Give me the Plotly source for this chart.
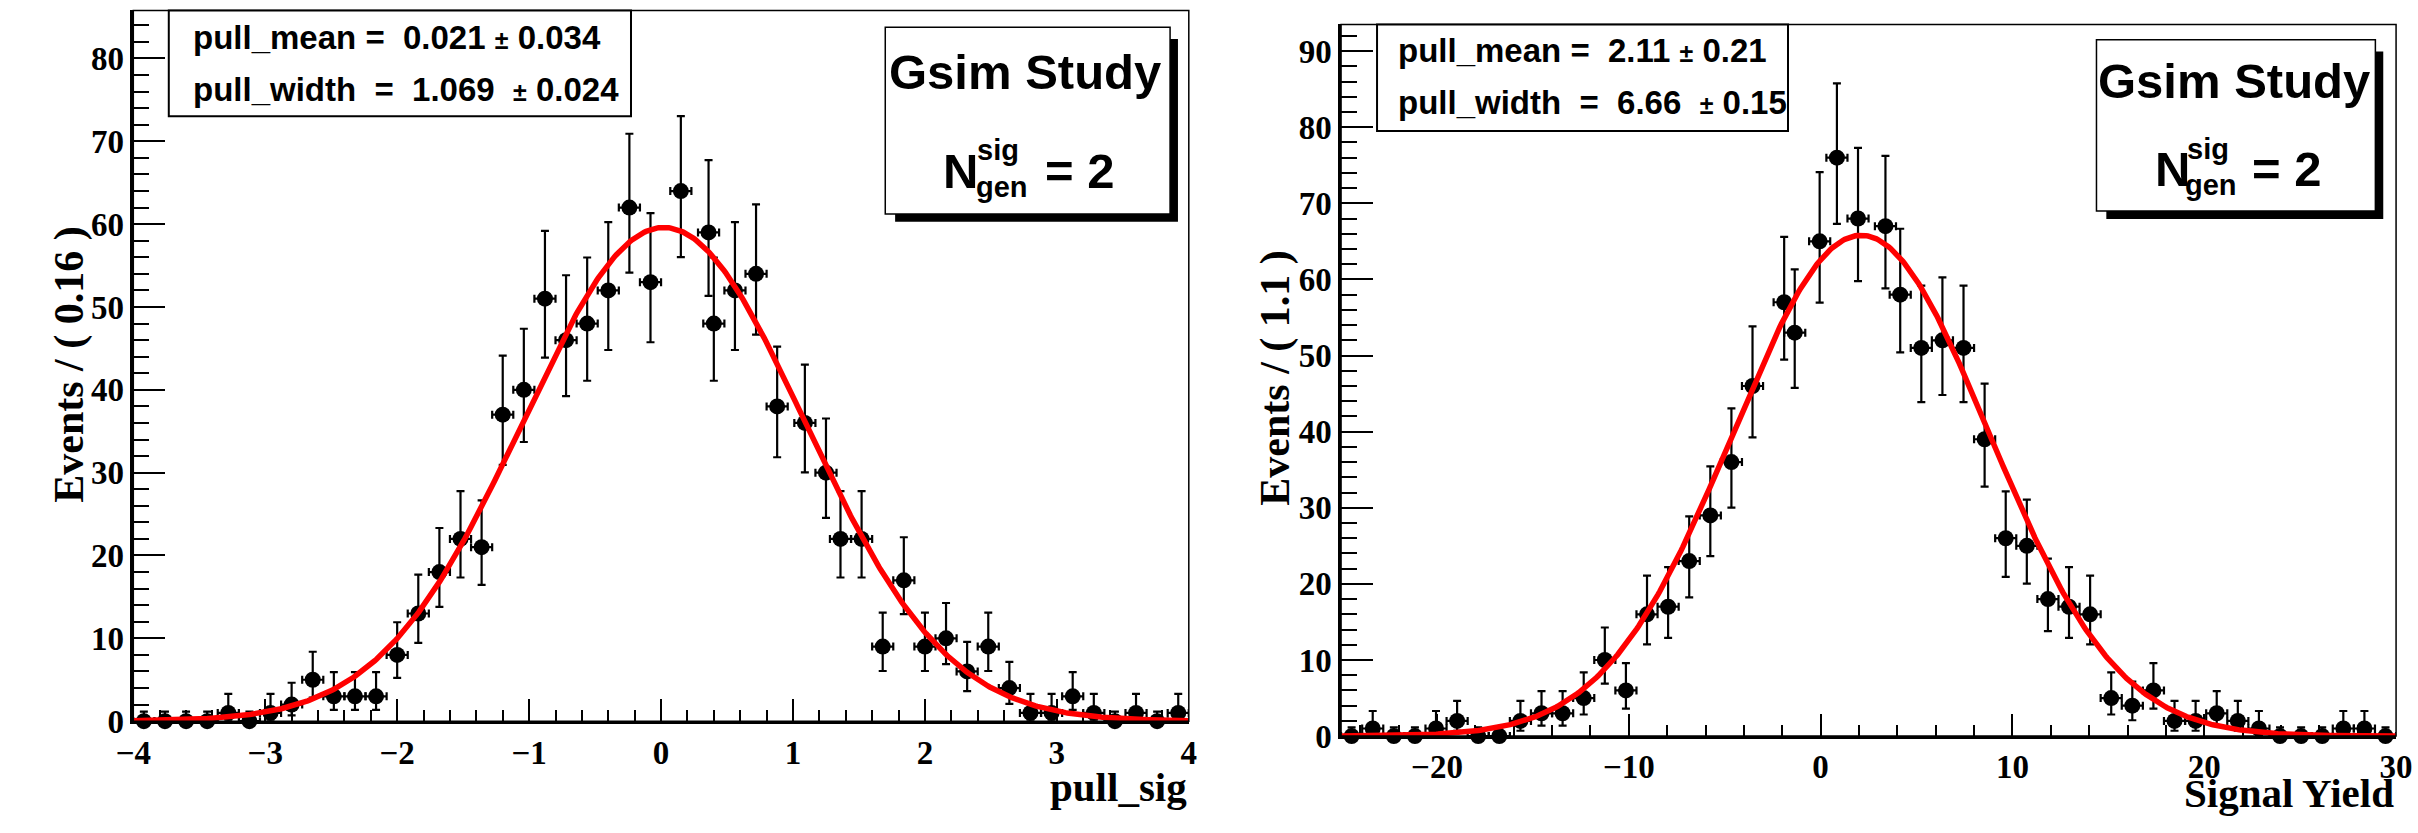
import math
import numpy as np
import plotly.graph_objects as go

W, H = 2418, 833

# ---------------- data: left panel (pull_sig, bin width 0.16) ----------------
pull_x = [-3.92, -3.76, -3.60, -3.44, -3.28, -3.12, -2.96, -2.80, -2.64, -2.48,
          -2.32, -2.16, -2.00, -1.84, -1.68, -1.52, -1.36, -1.20, -1.04, -0.88,
          -0.72, -0.56, -0.40, -0.24, -0.08, 0.15, 0.36, 0.40, 0.56, 0.72,
          0.88, 1.09, 1.25, 1.36, 1.52, 1.68, 1.84, 2.00, 2.16, 2.32,
          2.48, 2.64, 2.80, 2.96, 3.12, 3.28, 3.44, 3.60, 3.76, 3.92]
pull_counts = [0, 0, 0, 0, 1, 0, 1, 2, 5, 3,
               3, 3, 8, 13, 18, 22, 21, 37, 40, 51,
               46, 48, 52, 62, 53, 64, 59, 48, 52, 54,
               38, 36, 30, 22, 22, 9, 17, 9, 10, 6,
               9, 4, 1, 1, 3, 1, 0, 1, 0, 1]
pull_binwidth = 0.16
pull_range = [-4, 4]
pull_fit_mean = 0.021
pull_fit_width = 1.069
pull_fit_peak = 59.6
pull_ymax = 85.8

# ---------------- data: right panel (Signal Yield, bin width 1.1) ----------------
yield_x = [-24.45, -23.35, -22.25, -21.15, -20.05, -18.95, -17.85, -16.75, -15.65, -14.55,
           -13.45, -12.35, -11.25, -10.15, -9.05, -7.95, -6.85, -5.75, -4.65, -3.55,
           -1.90, -1.35, -0.05, 0.85, 1.95, 3.38, 4.15, 5.25, 6.35, 7.45,
           8.55, 9.65, 10.75, 11.85, 12.95, 14.05, 15.15, 16.25, 17.35, 18.45,
           19.55, 20.65, 21.75, 22.85, 23.95, 25.05, 26.15, 27.25, 28.35, 29.45]
yield_counts = [0, 1, 0, 0, 1, 2, 0, 0, 2, 3,
                3, 5, 10, 6, 16, 17, 23, 29, 36, 46,
                57, 53, 65, 76, 68, 67, 58, 51, 52, 51,
                39, 26, 25, 18, 17, 16, 5, 4, 6, 2,
                2, 3, 2, 1, 0, 0, 0, 1, 1, 0]
yield_binwidth = 1.1
yield_range = [-25, 30]
yield_fit_mean = 2.11
yield_fit_width = 6.66
yield_fit_peak = 65.8
yield_ymax = 93.5

# text
left_stats = ["pull_mean =  0.021 ± 0.034", "pull_width  =  1.069  ± 0.024"]
right_stats = ["pull_mean =  2.11 ± 0.21", "pull_width  =  6.66  ± 0.15"]


# ---------------- Poisson (RooFit-style) error bars ----------------
def pois_cdf(k, mu):
    term = math.exp(-mu)
    s = term
    for i in range(1, k + 1):
        term *= mu / i
        s += term
    return s


def poisson_errors(n, alpha=0.158655):
    if n == 0:
        return 0.0, -math.log(2 * alpha)
    lo_a, lo_b = 0.0, float(n)
    for _ in range(80):
        m = 0.5 * (lo_a + lo_b)
        if 1 - pois_cdf(n - 1, m) < alpha:
            lo_a = m
        else:
            lo_b = m
    hi_a, hi_b = float(n), n + 10 * math.sqrt(n) + 10
    for _ in range(80):
        m = 0.5 * (hi_a + hi_b)
        if pois_cdf(n, m) > alpha:
            hi_a = m
        else:
            hi_b = m
    return n - 0.5 * (lo_a + lo_b), 0.5 * (hi_a + hi_b) - n


def PX(x):
    return x / W


def PY(y):
    return 1 - y / H


SERIF = "Liberation Serif"
SANS = "Liberation Sans"

fig = go.Figure()

panels = [
    dict(xa="x", ya="y", xs=pull_x, ys=pull_counts, bw=pull_binwidth, rng=pull_range,
         mean=pull_fit_mean, width=pull_fit_width, peak=pull_fit_peak),
    dict(xa="x2", ya="y2", xs=yield_x, ys=yield_counts, bw=yield_binwidth, rng=yield_range,
         mean=yield_fit_mean, width=yield_fit_width, peak=yield_fit_peak),
]

for p in panels:
    errs = [poisson_errors(n) for n in p["ys"]]
    lo = [e[0] for e in errs]
    hi = [e[1] for e in errs]
    fig.add_trace(go.Scatter(
        x=p["xs"], y=p["ys"], mode="markers", xaxis=p["xa"], yaxis=p["ya"],
        marker=dict(color="black", size=16, symbol="circle"),
        error_y=dict(type="data", symmetric=False, array=hi, arrayminus=lo,
                     color="black", thickness=2.2, width=4),
        error_x=dict(type="constant", value=p["bw"] / 2, color="black", thickness=2.2, width=4),
        cliponaxis=False, showlegend=False, hoverinfo="skip"))
    cx = np.linspace(p["rng"][0], p["rng"][1], 600)
    cy = p["peak"] * np.exp(-0.5 * ((cx - p["mean"]) / p["width"]) ** 2)
    fig.add_trace(go.Scatter(
        x=cx, y=cy, mode="lines", xaxis=p["xa"], yaxis=p["ya"],
        line=dict(color="#ff0000", width=5.5), showlegend=False, hoverinfo="skip"))

L = dict(x0=117, x1=1188, y0=10.7, y1=738)
R = dict(x0=1342.5, x1=2413, y0=25, y1=753.3)

tickfont = dict(family=SERIF, size=33, color="black", weight="bold")


def xaxis_style(dom, rng, dtick, minor_dtick):
    return dict(domain=[PX(dom["x0"]), PX(dom["x1"])], range=rng, dtick=dtick, tick0=0,
                ticks="inside", ticklen=22, tickwidth=2, tickcolor="black",
                minor=dict(dtick=minor_dtick, tick0=0, ticks="inside", ticklen=11,
                           tickwidth=2, tickcolor="black"),
                showline=True, linewidth=2.5, linecolor="black", mirror=False,
                showgrid=False, zeroline=False, tickfont=tickfont, layer="below traces",
                ticklabeloverflow="allow", fixedrange=True)


def yaxis_style(dom, rng, anchor):
    return dict(domain=[PY(dom["y1"]), PY(dom["y0"])], range=rng, dtick=10, tick0=0,
                ticks="inside", ticklen=32, tickwidth=2, tickcolor="black",
                minor=dict(dtick=2, tick0=0, ticks="inside", ticklen=16,
                           tickwidth=2, tickcolor="black"),
                showline=True, linewidth=2.5, linecolor="black", mirror=False,
                showgrid=False, zeroline=False, tickfont=tickfont, layer="below traces",
                ticklabeloverflow="allow", anchor=anchor, fixedrange=True)


fig.update_layout(
    width=W, height=H, margin=dict(l=0, r=0, t=0, b=0),
    paper_bgcolor="white", plot_bgcolor="rgba(0,0,0,0)",
    xaxis=dict(xaxis_style(L, pull_range, 1, 0.2), anchor="y"),
    yaxis=yaxis_style(L, [0, pull_ymax], "x"),
    xaxis2=dict(xaxis_style(R, yield_range, 10, 2), anchor="y2"),
    yaxis2=yaxis_style(R, [0, yield_ymax], "x2"),
    showlegend=False,
)

shapes = []
# frames (top/right thin)
for d in (L, R):
    shapes.append(dict(type="rect", xref="paper", yref="paper",
                       x0=PX(d["x0"]), x1=PX(d["x1"]), y0=PY(d["y1"]), y1=PY(d["y0"]),
                       line=dict(color="black", width=1.5), layer="above"))

# stats boxes
stat_boxes = [dict(x0=153, x1=622, y0=10.7, y1=119), dict(x0=1379, x1=1796, y0=25, y1=134)]
for b in stat_boxes:
    shapes.append(dict(type="rect", xref="paper", yref="paper",
                       x0=PX(b["x0"]), x1=PX(b["x1"]), y0=PY(b["y1"]), y1=PY(b["y0"]),
                       line=dict(color="black", width=2), fillcolor="white", layer="above"))

# Gsim boxes with shadow
gsim_boxes = [dict(x0=880, x1=1169, y0=28, y1=219), dict(x0=2109, x1=2392, y0=40.7, y1=216)]
for b in gsim_boxes:
    shapes.append(dict(type="rect", xref="paper", yref="paper",
                       x0=PX(b["x0"] + 10), x1=PX(b["x1"] + 8), y0=PY(b["y1"] + 8),
                       y1=PY(b["y0"] + 12), line=dict(width=0), fillcolor="black", layer="above"))
    shapes.append(dict(type="rect", xref="paper", yref="paper",
                       x0=PX(b["x0"]), x1=PX(b["x1"]), y0=PY(b["y1"]), y1=PY(b["y0"]),
                       line=dict(color="black", width=1.5), fillcolor="white", layer="above"))
fig.update_layout(shapes=shapes)

ann = []


def add_text(text, x, y, size, family, xanchor="left", yanchor="middle", angle=0, bold=True):
    ann.append(dict(text=text, x=PX(x), y=PY(y), xref="paper", yref="paper",
                    xanchor=xanchor, yanchor=yanchor, showarrow=False, textangle=angle,
                    borderpad=0,
                    font=dict(family=family, size=size, color="black",
                              weight="bold" if bold else "normal")))


def fmt_stat(s):
    s = s.replace("  ", "\u00a0\u00a0")
    return s.replace("±", '<span style="font-size:25px">±</span>')


# stats text
add_text(fmt_stat(left_stats[0]), 177, 38, 33, SANS)
add_text(fmt_stat(left_stats[1]), 177, 92, 33, SANS)
add_text(fmt_stat(right_stats[0]), 1399, 52, 33, SANS)
add_text(fmt_stat(right_stats[1]), 1399, 105, 33, SANS)

# Gsim Study labels (N with stacked sup/sub scripts)
for cx, ty, nx, nb, sx, gx, ex in [(1022, 74, 938, 175, 972, 971, 1041),
                                   (2249, 83, 2167, 173, 2200, 2198, 2266)]:
    add_text("Gsim Study", cx, ty, 49, SANS, xanchor="center")
    add_text("N", nx, nb, 49, SANS)
    add_text("sig", sx, nb - 21, 29, SANS)
    add_text("gen", gx, nb + 16, 29, SANS)
    add_text("= 2", ex, nb, 49, SANS)

# axis titles
add_text("Events / ( 0.16 )", 52, 373, 42, SERIF, xanchor="center", angle=-90)
add_text("Events / ( 1.1 )", 1276, 387, 42, SERIF, xanchor="center", angle=-90)
add_text("pull_sig", 1187, 805, 41, SERIF, xanchor="right")
add_text("Signal Yield", 2412, 811, 41, SERIF, xanchor="right")

fig.update_layout(annotations=ann)

fig.write_html("out.html")
